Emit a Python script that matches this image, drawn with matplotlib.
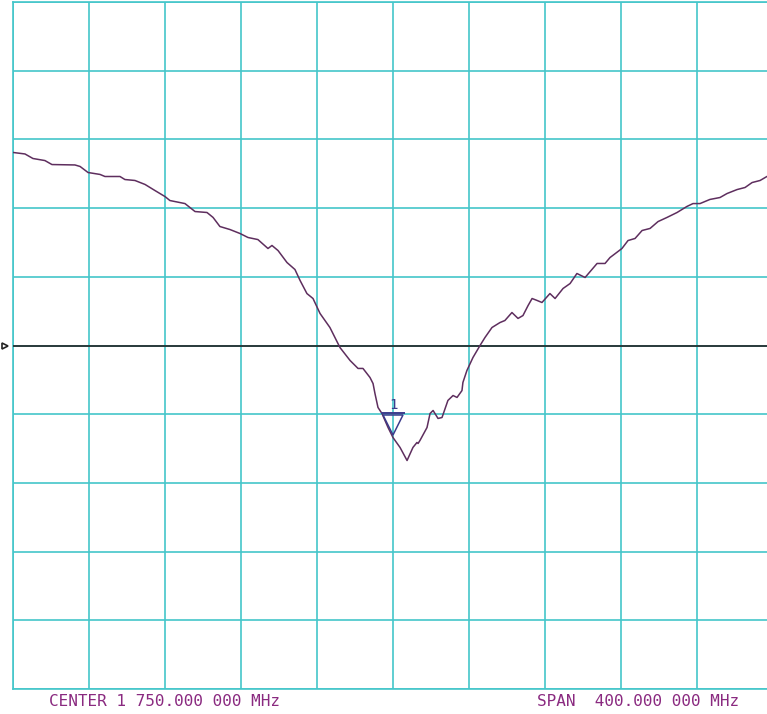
import numpy as np
import matplotlib
matplotlib.use('Agg')
import matplotlib.pyplot as plt
from matplotlib.transforms import offset_copy

# trace: frequency (MHz) and level (dB, 5 dB/div, ref 0 dB)
freq = [1550.0, 1556.3, 1560.5, 1566.8, 1570.5, 1582.6, 1585.3, 1589.5, 1595.8, 1598.4,
        1606.3, 1608.9, 1614.2, 1619.5, 1624.7, 1630.0, 1632.6, 1640.5, 1645.8, 1652.1,
        1655.3, 1658.9, 1664.2, 1669.5, 1673.7, 1678.9, 1684.2, 1686.3, 1689.5, 1694.2,
        1698.4, 1701.1, 1704.7, 1707.9, 1711.6, 1716.8, 1722.1, 1727.4, 1731.6, 1734.2,
        1737.9, 1739.5, 1740.5, 1742.1, 1744.2, 1747.4, 1750.0, 1753.7, 1757.4, 1760.5,
        1762.6, 1763.2, 1764.2, 1767.9, 1769.5, 1771.1, 1773.7, 1775.8, 1778.9, 1781.6,
        1783.7, 1786.3, 1786.8, 1788.9, 1792.1, 1795.8, 1798.4, 1802.1, 1806.3, 1808.9,
        1812.6, 1815.8, 1818.4, 1821.1, 1823.2, 1825.8, 1828.4, 1832.6, 1835.3, 1839.5,
        1843.2, 1846.8, 1851.1, 1857.4, 1861.6, 1864.2, 1870.5, 1873.7, 1877.4, 1881.1,
        1885.3, 1889.5, 1894.2, 1899.5, 1904.7, 1907.9, 1911.6, 1916.8, 1922.1, 1925.8,
        1931.1, 1935.3, 1939.0, 1943.2, 1946.8, 1950.0]
level = [14.05, 13.94, 13.61, 13.46, 13.17, 13.14, 13.03, 12.59, 12.45, 12.30,
         12.30, 12.08, 12.01, 11.72, 11.28, 10.84, 10.55, 10.33, 9.75, 9.68,
         9.32, 8.66, 8.44, 8.15, 7.86, 7.71, 7.06, 7.28, 6.91, 6.04,
         5.53, 4.73, 3.78, 3.42, 2.33, 1.31, -0.15, -1.09, -1.67, -1.67,
         -2.33, -2.77, -3.49, -4.51, -4.95, -5.97, -6.70, -7.42, -8.37, -7.42,
         -7.06, -7.13, -6.91, -5.97, -4.95, -4.73, -5.31, -5.24, -4.00, -3.64,
         -3.78, -3.28, -2.69, -1.82, -0.87, 0.00, 0.58, 1.31, 1.67, 1.82,
         2.40, 1.97, 2.18, 2.91, 3.42, 3.28, 3.13, 3.78, 3.42, 4.15,
         4.51, 5.24, 4.95, 5.97, 5.97, 6.40, 7.06, 7.64, 7.79, 8.37,
         8.52, 9.02, 9.32, 9.68, 10.12, 10.33, 10.33, 10.63, 10.77, 11.06,
         11.35, 11.50, 11.86, 12.01, 12.30, 12.45]

center = 1750.0
span = 400.0
ref_level = 0.0
scale_db = 5.0
marker_freq = 1750.0

grid_c = '#44c6ca'
trace_c = '#5e2e5e'
text_c = '#8a2a80'
mark_c = '#3c3c8c'

fig = plt.figure(figsize=(7.67, 7.14), dpi=100)
ax = fig.add_axes([13 / 767, 25 / 714, 760 / 767, 687 / 714])
ax.set_xlim(center - span / 2, center + span / 2)
ax.set_ylim(ref_level - 5 * scale_db, ref_level + 5 * scale_db)
ax.set_xticks(np.linspace(center - span / 2, center + span / 2, 11))
ax.set_yticks(np.linspace(ref_level - 5 * scale_db, ref_level + 5 * scale_db, 11))
ax.grid(True, color=grid_c, lw=1.2)
ax.tick_params(length=0, labelbottom=False, labelleft=False)
for s in ax.spines.values():
    s.set_color(grid_c)
    s.set_linewidth(1.2)

ax.axhline(ref_level, color='#222222', lw=1.2, zorder=3)
ax.plot(freq, level, color=trace_c, lw=1.1, zorder=4)

# reference level pointer at the left edge
ptr = offset_copy(ax.transData, fig=fig, x=-8, y=0, units='dots')
ax.plot([center - span / 2], [ref_level], marker='>', ms=5, mfc='white',
        mec='#222222', mew=1.2, transform=ptr, clip_on=False, zorder=5)

# marker 1
mval = np.interp(marker_freq, freq, level)
tri = offset_copy(ax.transData, fig=fig, x=0, y=13, units='dots')
ax.plot([marker_freq], [mval], marker='v', ms=14, mfc='none', mec=mark_c,
        mew=1.1, transform=tri, zorder=5)
bar = offset_copy(ax.transData, fig=fig, x=0, y=25, units='dots')
ax.plot([marker_freq], [mval], marker='_', ms=17, mec=mark_c, mew=1.4,
        transform=bar, zorder=5)
lab = offset_copy(ax.transData, fig=fig, x=0, y=26, units='dots')
ax.text(marker_freq, mval, '1', transform=lab, color=mark_c, fontsize=10,
        ha='center', va='bottom', family='DejaVu Sans Mono')

fig.text(49 / 767, 1 - 702 / 714, 'CENTER 1 750.000 000 MHz', color=text_c,
         fontsize=11.5, family='DejaVu Sans Mono', va='center', ha='left')
fig.text(537 / 767, 1 - 702 / 714, 'SPAN  400.000 000 MHz', color=text_c,
         fontsize=11.5, family='DejaVu Sans Mono', va='center', ha='left')

fig.savefig('out.png', dpi=100)
